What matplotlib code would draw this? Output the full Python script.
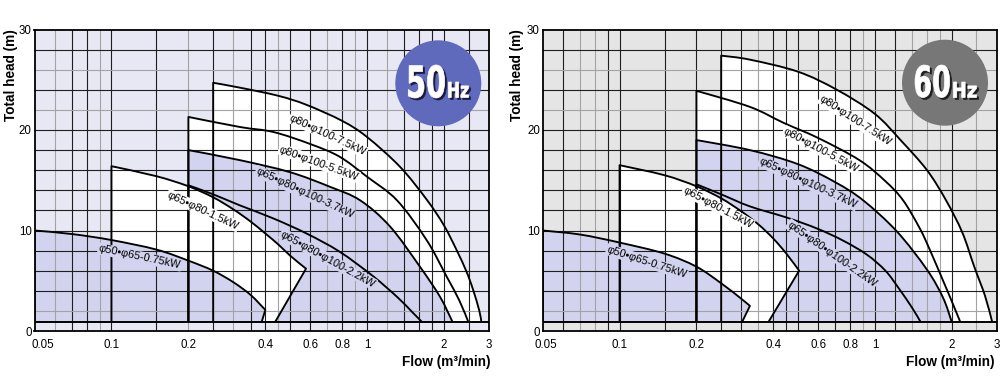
import numpy as np
import matplotlib
matplotlib.use('Agg')
import matplotlib.pyplot as plt
from matplotlib.patches import Circle, PathPatch
from matplotlib.path import Path
from matplotlib.textpath import TextPath
from matplotlib.font_manager import FontProperties
from matplotlib.transforms import Affine2D

# ---------------- data ----------------
x_ticks = [0.05, 0.1, 0.2, 0.4, 0.6, 0.8, 1, 2, 3]
x_tick_labels = ['0.05', '0.1', '0.2', '0.4', '0.6', '0.8', '1', '2', '3']
y_ticks = [0, 10, 20, 30]
base_head = 0.9

# 50 Hz curves (flow m3/min, head m)
hz50_075_q = [0.05, 0.07, 0.1, 0.15, 0.2, 0.25, 0.3, 0.35, 0.40]
hz50_075_h = [10.0, 9.65, 9.05, 8.1, 7.0, 6.0, 4.85, 3.6, 2.1]
hz50_075_foot = 0.387
hz50_15_q = [0.1, 0.15, 0.2, 0.25, 0.3, 0.35, 0.4, 0.45, 0.5, 0.577]
hz50_15_h = [16.4, 15.4, 14.4, 13.3, 12.1, 10.9, 9.7, 8.6, 7.5, 6.2]
hz50_15_foot = 0.437
hz50_22_q = [0.2, 0.25, 0.318, 0.43, 0.58, 0.78, 1.05, 1.31, 1.5, 1.64]
hz50_22_h = [14.5, 13.6, 12.5, 11.2, 9.7, 7.9, 5.5, 3.4, 1.9, 0.9]
hz50_37_q = [0.2, 0.318, 0.5, 0.714, 0.94, 1.23, 1.61, 1.93, 2.16]
hz50_37_h = [18.0, 17.0, 15.8, 14.36, 13.0, 10.4, 6.4, 3.4, 0.9]
hz50_55_q = [0.2, 0.318, 0.43, 0.6, 0.78, 1.0, 1.31, 1.71, 2.05, 2.3, 2.49]
hz50_55_h = [21.3, 20.3, 19.8, 18.6, 17.35, 15.35, 13.0, 9.05, 5.4, 3.0, 0.9]
hz50_75_q = [0.25, 0.32, 0.45, 0.58, 0.8, 1.0, 1.35, 1.72, 2.0, 2.24, 2.45, 2.6, 2.75, 2.8]
hz50_75_h = [24.7, 24.2, 23.4, 22.5, 20.9, 19.3, 16.3, 13.0, 10.5, 8.06, 5.9, 4.1, 2.0, 0.9]

# 60 Hz curves
hz60_075_q = [0.05, 0.07, 0.1, 0.15, 0.2, 0.25, 0.3, 0.324]
hz60_075_h = [10.0, 9.6, 8.8, 7.7, 6.4, 4.75, 3.2, 2.5]
hz60_075_foot = 0.302
hz60_15_q = [0.1, 0.15, 0.2, 0.25, 0.3, 0.35, 0.4, 0.45, 0.505]
hz60_15_h = [16.5, 15.5, 14.4, 13.2, 11.9, 10.6, 9.2, 7.7, 6.0]
hz60_15_foot = 0.383
hz60_22_q = [0.2, 0.25, 0.324, 0.45, 0.593, 0.75, 0.93, 1.1, 1.24, 1.4, 1.51]
hz60_22_h = [14.6, 13.6, 12.4, 11.3, 10.2, 9.0, 7.6, 6.0, 4.25, 2.3, 0.9]
hz60_37_q = [0.2, 0.324, 0.5, 0.7, 0.9, 1.22, 1.6, 1.85, 2.0]
hz60_37_h = [19.0, 18.0, 16.6, 14.8, 13.0, 9.9, 6.1, 3.3, 0.9]
hz60_55_q = [0.2, 0.324, 0.44, 0.6, 0.87, 1.1, 1.29, 1.5, 1.64, 1.85, 1.99, 2.16]
hz60_55_h = [23.9, 22.3, 20.7, 19.2, 17.0, 14.9, 13.0, 10.2, 8.1, 5.0, 3.1, 0.9]
hz60_75_q = [0.25, 0.324, 0.5, 0.71, 1.0, 1.26, 1.6, 1.9, 2.2, 2.45, 2.7, 2.88]
hz60_75_h = [27.4, 27.0, 25.8, 24.0, 21.6, 19.0, 16.0, 13.0, 9.8, 6.4, 3.5, 0.9]

labels_text = ['φ50•φ65-0.75kW', 'φ65•φ80-1.5kW', 'φ65•φ80•φ100-2.2kW',
               'φ65•φ80•φ100-3.7kW', 'φ80•φ100-5.5kW', 'φ80•φ100-7.5kW']

# ---------------- style ----------------
W, H, DPI = 1002, 381, 100
BLUE = '#D2D3EE'
WHITE = '#FFFFFF'
BG50 = '#E8E8F5'
BG60 = '#E5E5E5'
DARK = '#1E1E1E'
GRAY = '#A3A3A3'

fig = plt.figure(figsize=(W / DPI, H / DPI), dpi=DPI)
fig.patch.set_facecolor('white')

v_lines = [0.06, 0.07, 0.08, 0.09, 0.1, 0.15, 0.2, 0.25, 0.3, 0.35, 0.4, 0.45,
           0.5, 0.6, 0.7, 0.8, 0.9, 1.0, 1.2, 1.4, 1.6, 1.8, 2.0, 2.5]
h_lines = [2, 4, 6, 8, 10, 12, 14, 16, 18, 20, 22, 24, 26, 28]
h_gray = [2, 22, 26]


def curve_path(q, h, foot, closed):
    """Smooth (Bezier, in log-flow space) outline through the read points."""
    P = np.column_stack([np.log10(q), h])
    n = len(P)
    verts = [(q[0], base_head), (q[0], h[0])]
    codes = [Path.MOVETO, Path.LINETO]
    for i in range(n - 1):
        p0 = P[i - 1] if i > 0 else P[i]
        p1, p2 = P[i], P[i + 1]
        p3 = P[i + 2] if i + 2 < n else P[i + 1]
        c1 = p1 + (p2 - p0) / 6.0
        c2 = p2 - (p3 - p1) / 6.0
        for c in (c1, c2, p2):
            verts.append((10 ** c[0], c[1]))
            codes.append(Path.CURVE4)
    if foot is not None:
        verts.append((foot, base_head))
        codes.append(Path.LINETO)
    if closed:
        verts.append(verts[0])
        codes.append(Path.CLOSEPOLY)
    return Path(verts, codes)


def panel(rect, bg, gray_v, curves, label_specs, fifty_offset):
    ax = fig.add_axes(rect)
    ax.set_facecolor(bg)
    ax.set_xscale('log')
    ax.set_xlim(0.05, 3)
    ax.set_ylim(0, 30)
    for q, h, foot, col in curves:
        ax.add_patch(PathPatch(curve_path(q, h, foot, True), fc=col, ec='none', zorder=1))
    for v in v_lines:
        ax.axvline(v, color=GRAY if v in gray_v else DARK, lw=0.8, zorder=2)
    for v in h_lines:
        ax.axhline(v, color=GRAY if v in h_gray else DARK, lw=0.8, zorder=2)
    ax.axhline(base_head, color='black', lw=1.4, zorder=3)
    for q, h, foot, col in curves:
        ax.add_patch(PathPatch(curve_path(q, h, foot, False), fill=False, ec='black',
                               lw=1.35, zorder=3, joinstyle='round'))
    for txt, (lx, ly, rot, fc) in zip(labels_text, label_specs):
        ax.text(lx, ly, txt, rotation=-rot, rotation_mode='anchor', ha='center',
                va='center', fontsize=7.9, family=['Liberation Sans', 'DejaVu Sans'],
                zorder=4, bbox=dict(boxstyle='square,pad=0.08', fc=fc, ec='none'))
    ax.set_xticks(x_ticks)
    ax.set_xticklabels([''] + x_tick_labels[1:])
    ax.xaxis.set_minor_locator(matplotlib.ticker.NullLocator())
    ax.set_yticks(y_ticks)
    ax.tick_params(length=0, labelsize=8.3, pad=6)
    ax.tick_params(axis='y', pad=2)
    for lbl in ax.get_xticklabels() + ax.get_yticklabels():
        lbl.set_family('Liberation Sans')
    ax.annotate(x_tick_labels[0], xy=(0.05, 0), xycoords=('data', 'axes fraction'),
                xytext=(fifty_offset, -8.5), textcoords='offset pixels',
                ha='center', va='top', fontsize=8.3, family='Liberation Sans')
    for s in ax.spines.values():
        s.set_linewidth(1.3)
        s.set_zorder(5)
    return ax


def curves_for(prefix):
    g = globals()
    return [
        (g[prefix + '_75_q'], g[prefix + '_75_h'], None, WHITE),
        (g[prefix + '_55_q'], g[prefix + '_55_h'], None, WHITE),
        (g[prefix + '_37_q'], g[prefix + '_37_h'], None, BLUE),
        (g[prefix + '_22_q'], g[prefix + '_22_h'], None, BLUE),
        (g[prefix + '_15_q'], g[prefix + '_15_h'], g[prefix + '_15_foot'], WHITE),
        (g[prefix + '_075_q'], g[prefix + '_075_h'], g[prefix + '_075_foot'], BLUE),
    ]


lab50 = [(0.129, 7.36, 12, BLUE), (0.228, 12.0, 25, WHITE), (0.703, 7.16, 29, BLUE),
         (0.571, 13.7, 25, BLUE), (0.648, 16.7, 20, WHITE), (0.703, 19.5, 25, WHITE)]
lab60 = [(0.128, 6.87, 18, BLUE), (0.243, 12.3, 28, WHITE), (0.68, 7.66, 35, BLUE),
         (0.547, 14.7, 25, BLUE), (0.615, 18.0, 28, WHITE), (0.84, 20.9, 33, WHITE)]

axb = (H - 331) / H
axh = 301.5 / H
ax1 = panel([34.5 / W, axb, 454.5 / W, axh], BG50,
            [0.06, 0.09, 0.2, 0.3, 0.45, 0.7, 0.9, 1.2], curves_for('hz50'), lab50, 8)
ax2 = panel([542.7 / W, axb, 454 / W, axh], BG60,
            [0.07, 0.08, 0.35, 0.9, 1.4, 1.6, 1.8, 2.5], curves_for('hz60'), lab60, 3)

for xc, xr in [(11.5, 490), (517, 995)]:
    fig.text(xc / W, (H - 75) / H, 'Total head (m)', rotation=90, ha='center', va='center',
             fontsize=9.8, fontweight='bold', family='Liberation Sans')
    fig.text(xr / W, (H - 362) / H, 'Flow (m³/min)', ha='right', va='center',
             fontsize=9.8, fontweight='bold', family='Liberation Sans')


def glyphs(text, box, color, size):
    fp = FontProperties(family='DejaVu Sans', weight='bold')
    tp = TextPath((0, 0), text, size=size, prop=fp)
    bb = tp.get_extents()
    x0, y0, x1, y1 = box
    sx = (x1 - x0) / bb.width
    sy = (y1 - y0) / bb.height
    for dx, dy, c, z in [(2.0, -2.0, color, 11), (0, 0, 'white', 12)]:
        tr = (Affine2D().translate(-bb.x0, -bb.y0).scale(sx, sy)
              .translate(x0 + dx, H - y1 + dy).scale(1 / DPI) + fig.dpi_scale_trans)
        fig.add_artist(PathPatch(tp, transform=tr, fc=c, ec=c, lw=0.5, zorder=z))


def badge(cx, cy, r, col, shadow, big, big_box, small_box):
    fig.add_artist(Circle((cx / DPI, (H - cy) / DPI), r / DPI, transform=fig.dpi_scale_trans,
                          fc=col, ec='none', zorder=10))
    glyphs(big, big_box, shadow, 48)
    glyphs('Hz', small_box, shadow, 24)


badge(438.3, 83.3, 43.0, '#5F6ABD', '#1B1B3A', '50', (408.3, 65, 444.7, 98), (448.3, 82, 468.5, 97.5))
badge(945.0, 82.7, 43.0, '#777777', '#1E1E1E', '60', (915, 65, 949.7, 97.5), (953.3, 82, 976.5, 97.5))

fig.savefig('out.png', dpi=DPI, facecolor='white')
